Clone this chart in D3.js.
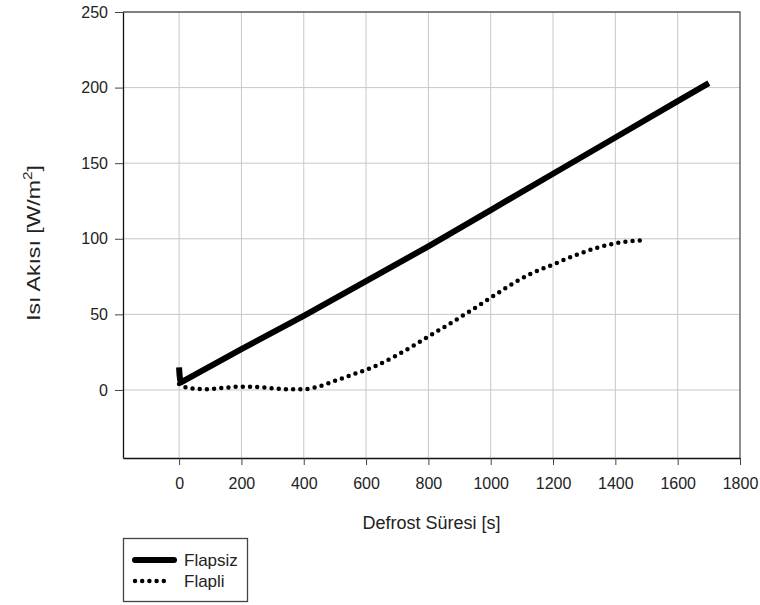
<!DOCTYPE html>
<html>
<head>
<meta charset="utf-8">
<script src="https://cdn.jsdelivr.net/npm/d3@7"></script>
<style>
  body { margin: 0; background: #fff; }
  text { font-family: "Liberation Sans", Arial, sans-serif; fill: #222; }
</style>
</head>
<body>
<div id="chart"></div>
<script>
// Flapsiz series (solid)
const flapsizX = [0, 1, 3, 6, 200, 400, 600, 800, 1000, 1200, 1400, 1600, 1700];
const flapsizY = [15, 11, 7, 5, 27, 49, 72, 95, 119, 143, 167, 191, 203];
// Flapli series (dotted)
const flapliX = [0, 25, 85, 150, 200, 250, 300, 350, 390, 440, 500, 560, 625, 690, 750, 805, 870, 940, 1000, 1060, 1130, 1200, 1270, 1340, 1400, 1450, 1490];
const flapliY = [4, 1.5, 0.5, 1.5, 2.2, 2, 1.1, 0.5, 0.4, 1.8, 6, 10.4, 15.4, 22, 29, 36, 44, 53, 61, 69, 77, 83, 89, 94, 97, 98.5, 99];

const xTicks = [0, 200, 400, 600, 800, 1000, 1200, 1400, 1600, 1800];
const yTicks = [0, 50, 100, 150, 200, 250];
const seriesNames = ['Flapsiz', 'Flapli'];

const width = 760, height = 605;
const margin = { top: 12, right: 20, bottom: 147, left: 123 };

const x = d3.scaleLinear().domain([-180, 1800]).range([margin.left, width - margin.right]);
const y = d3.scaleLinear().domain([-45, 250]).range([height - margin.bottom, margin.top]);

const svg = d3.select('#chart').append('svg').attr('width', width).attr('height', height);

// grid
svg.append('g')
  .selectAll('line')
  .data(xTicks.filter(d => d < 1800))
  .join('line')
  .attr('x1', d => x(d)).attr('x2', d => x(d))
  .attr('y1', y(-45)).attr('y2', y(250))
  .attr('stroke', '#c8c8c8').attr('stroke-width', 1);
svg.append('g')
  .selectAll('line')
  .data(yTicks.filter(d => d < 250))
  .join('line')
  .attr('x1', x(-180)).attr('x2', x(1800))
  .attr('y1', d => y(d)).attr('y2', d => y(d))
  .attr('stroke', '#c8c8c8').attr('stroke-width', 1);

// top / right frame
svg.append('path')
  .attr('d', `M${x(-180)},${y(250)}H${x(1800)}V${y(-45)}`)
  .attr('fill', 'none').attr('stroke', '#555').attr('stroke-width', 1.3);

// axes
const xAxis = svg.append('g')
  .attr('transform', `translate(0,${y(-45)})`)
  .call(d3.axisBottom(x).tickValues(xTicks).tickFormat(d3.format('d'))
    .tickSize(7).tickSizeOuter(0).tickPadding(13));
const yAxis = svg.append('g')
  .attr('transform', `translate(${x(-180)},0)`)
  .call(d3.axisLeft(y).tickValues(yTicks).tickFormat(d3.format('d'))
    .tickSize(8).tickSizeOuter(0).tickPadding(7));
[xAxis, yAxis].forEach(g => {
  g.select('.domain').attr('stroke', '#111').attr('stroke-width', 1.3);
  g.selectAll('.tick line').attr('stroke', '#444');
  g.selectAll('.tick text').attr('font-size', 16).attr('fill', '#222')
    .attr('font-family', '"Liberation Sans", Arial, sans-serif');
});

// lines
const line = d3.line().x(d => x(d[0])).y(d => y(d[1]));
svg.append('path')
  .datum(d3.zip(flapsizX, flapsizY))
  .attr('d', line)
  .attr('fill', 'none').attr('stroke', '#000').attr('stroke-width', 6)
  .attr('stroke-linejoin', 'round');
svg.append('path')
  .datum(d3.zip(flapliX, flapliY))
  .attr('d', d3.line().curve(d3.curveMonotoneX).x(d => x(d[0])).y(d => y(d[1])))
  .attr('fill', 'none').attr('stroke', '#000').attr('stroke-width', 4.5)
  .attr('stroke-linecap', 'round').attr('stroke-dasharray', '0 7.2');

// axis titles
svg.append('text')
  .attr('x', (x(-180) + x(1800)) / 2).attr('y', 529)
  .attr('text-anchor', 'middle').attr('font-size', 18)
  .text('Defrost Süresi [s]');
const yt = svg.append('text')
  .attr('transform', `translate(40,${(y(-45) + y(250)) / 2 + 8}) rotate(-90) scale(1.28,1)`)
  .attr('text-anchor', 'middle').attr('font-size', 18);
yt.append('tspan').text('Isı Akısı [W/m');
yt.append('tspan').attr('dy', -8).attr('font-size', 12).text('2');
yt.append('tspan').attr('dy', 8).text(']');

// legend
const lg = svg.append('g');
lg.append('rect')
  .attr('x', 123.5).attr('y', 538.5).attr('width', 124).attr('height', 63)
  .attr('fill', '#fff').attr('stroke', '#444').attr('stroke-width', 1.3);
const legendStyles = [
  { w: 6, dash: null, cap: 'round' },
  { w: 4.5, dash: '0 7.2', cap: 'round' }
];
seriesNames.forEach((name, i) => {
  const ly = 560 + i * 21;
  lg.append('line')
    .attr('x1', 135).attr('x2', i === 0 ? 174 : 168).attr('y1', ly).attr('y2', ly)
    .attr('stroke', '#000').attr('stroke-width', legendStyles[i].w)
    .attr('stroke-linecap', legendStyles[i].cap)
    .attr('stroke-dasharray', legendStyles[i].dash);
  lg.append('text')
    .attr('x', 184).attr('y', ly + 6)
    .attr('font-size', 17)
    .text(name);
});
</script>
</body>
</html>
